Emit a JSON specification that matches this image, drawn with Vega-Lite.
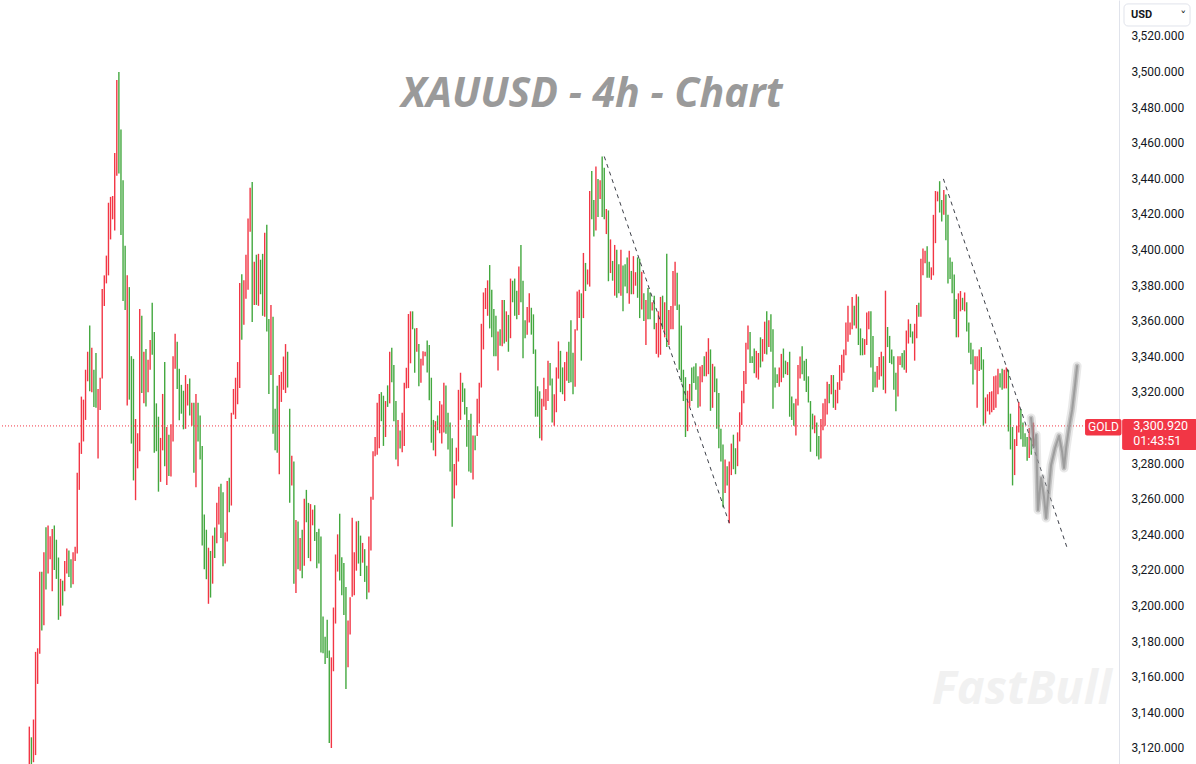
{
  "$schema": "https://vega.github.io/schema/vega-lite/v6.json",
  "width": 1119,
  "height": 764,
  "autosize": "none",
  "padding": {"left": 0, "top": 0, "right": 77, "bottom": 0},
  "background": "white",
  "config": {
    "view": {"stroke": null},
    "axisY": {"ticks": false, "grid": false, "domainColor": "#e0e3eb", "domainWidth": 1, "labelFont": "Roboto", "labelFontSize": 12, "labelColor": "#131722", "labelPadding": 12, "labelOverlap": false, "labelBound": false, "labelFlush": false, "title": null}
  },
  "datasets": {
    "bars": [
{"t":0,"h":3132,"l":3108,"c":"d"},{"t":1,"h":3126,"l":3108,"c":"u"},{"t":2,"h":3136,"l":3112,"c":"d"},{"t":3,"h":3174,"l":3116,"c":"d"},{"t":4,"h":3176,"l":3156,"c":"d"},{"t":5,"h":3219,"l":3173,"c":"d"},{"t":6,"h":3219,"l":3186,"c":"u"},{"t":7,"h":3230,"l":3189,"c":"d"},{"t":8,"h":3244,"l":3209,"c":"u"},{"t":9,"h":3245,"l":3218,"c":"d"},
{"t":10,"h":3239,"l":3226,"c":"d"},{"t":11,"h":3243,"l":3208,"c":"d"},{"t":12,"h":3245,"l":3220,"c":"u"},{"t":13,"h":3237,"l":3215,"c":"u"},{"t":14,"h":3227,"l":3192,"c":"u"},{"t":15,"h":3215,"l":3194,"c":"d"},{"t":16,"h":3214,"l":3200,"c":"u"},{"t":17,"h":3225,"l":3208,"c":"d"},{"t":18,"h":3232,"l":3218,"c":"d"},{"t":19,"h":3231,"l":3216,"c":"u"},
{"t":20,"h":3226,"l":3210,"c":"u"},{"t":21,"h":3230,"l":3212,"c":"d"},{"t":22,"h":3233,"l":3225,"c":"d"},{"t":23,"h":3274.6,"l":3229.2,"c":"d"},{"t":24,"h":3291.5,"l":3265.0,"c":"d"},{"t":25,"h":3317.4,"l":3285.2,"c":"d"},{"t":26,"h":3315.7,"l":3292.2,"c":"d"},{"t":27,"h":3332.5,"l":3304.3,"c":"d"},{"t":28,"h":3342.6,"l":3326.0,"c":"d"},{"t":29,"h":3357.3,"l":3320.4,"c":"u"},
{"t":30,"h":3344.9,"l":3319.9,"c":"d"},{"t":31,"h":3332.5,"l":3311.6,"c":"u"},{"t":32,"h":3341.9,"l":3311.1,"c":"u"},{"t":33,"h":3321.7,"l":3282.6,"c":"d"},{"t":34,"h":3328.0,"l":3309.9,"c":"d"},{"t":35,"h":3377.9,"l":3327.5,"c":"d"},{"t":36,"h":3385.5,"l":3368.3,"c":"d"},{"t":37,"h":3396.6,"l":3381.0,"c":"d"},{"t":38,"h":3426.3,"l":3385.5,"c":"d"},{"t":39,"h":3429.6,"l":3405.7,"c":"d"},
{"t":40,"h":3430.1,"l":3417.0,"c":"d"},{"t":41,"h":3454.3,"l":3410.7,"c":"d"},{"t":42,"h":3495.2,"l":3441.5,"c":"d"},{"t":43,"h":3499.7,"l":3442.7,"c":"u"},{"t":44,"h":3467.4,"l":3408.2,"c":"u"},{"t":45,"h":3438.9,"l":3371.1,"c":"u"},{"t":46,"h":3402.1,"l":3366.1,"c":"u"},{"t":47,"h":3385.5,"l":3312.4,"c":"d"},{"t":48,"h":3378.9,"l":3315.7,"c":"u"},{"t":49,"h":3340.1,"l":3291.0,"c":"u"},
{"t":50,"h":3338.6,"l":3270.3,"c":"u"},{"t":51,"h":3304.8,"l":3259.2,"c":"d"},{"t":52,"h":3296.8,"l":3277.1,"c":"d"},{"t":53,"h":3366.6,"l":3286.7,"c":"d"},{"t":54,"h":3362.8,"l":3319.4,"c":"u"},{"t":55,"h":3342.6,"l":3313.6,"c":"d"},{"t":56,"h":3344.1,"l":3311.9,"c":"u"},{"t":57,"h":3338.1,"l":3319.9,"c":"d"},{"t":58,"h":3349.2,"l":3332.5,"c":"d"},{"t":59,"h":3370.1,"l":3340.9,"c":"u"},
{"t":60,"h":3353.7,"l":3285.9,"c":"u"},{"t":61,"h":3313.6,"l":3286.7,"c":"u"},{"t":62,"h":3306.1,"l":3264.0,"c":"u"},{"t":63,"h":3294.2,"l":3269.5,"c":"d"},{"t":64,"h":3318.9,"l":3287.2,"c":"d"},{"t":65,"h":3336.8,"l":3278.3,"c":"u"},{"t":66,"h":3300.3,"l":3267.8,"c":"d"},{"t":67,"h":3296.0,"l":3272.8,"c":"u"},{"t":68,"h":3301.8,"l":3272.5,"c":"d"},{"t":69,"h":3340.1,"l":3292.2,"c":"d"},
{"t":70,"h":3352.7,"l":3333.1,"c":"d"},{"t":71,"h":3348.2,"l":3321.7,"c":"u"},{"t":72,"h":3333.1,"l":3304.1,"c":"u"},{"t":73,"h":3324.0,"l":3307.8,"c":"u"},{"t":74,"h":3320.7,"l":3299.0,"c":"u"},{"t":75,"h":3329.5,"l":3299.3,"c":"d"},{"t":76,"h":3324.5,"l":3312.4,"c":"d"},{"t":77,"h":3327.5,"l":3306.8,"c":"u"},{"t":78,"h":3313.9,"l":3301.0,"c":"d"},{"t":79,"h":3313.9,"l":3274.6,"c":"u"},
{"t":80,"h":3318.9,"l":3266.5,"c":"d"},{"t":81,"h":3313.9,"l":3292.2,"c":"u"},{"t":82,"h":3306.8,"l":3282.1,"c":"u"},{"t":83,"h":3289.7,"l":3233.7,"c":"u"},{"t":84,"h":3251.1,"l":3220.4,"c":"u"},{"t":85,"h":3242.6,"l":3214.8,"c":"u"},{"t":86,"h":3232.5,"l":3201.0,"c":"d"},{"t":87,"h":3230.7,"l":3204.5,"c":"u"},{"t":88,"h":3239.3,"l":3212.3,"c":"d"},{"t":89,"h":3243.8,"l":3226.7,"c":"u"},
{"t":90,"h":3257.7,"l":3235.0,"c":"d"},{"t":91,"h":3266.7,"l":3245.6,"c":"d"},{"t":92,"h":3268.5,"l":3238.0,"c":"u"},{"t":93,"h":3263.7,"l":3222.1,"c":"u"},{"t":94,"h":3241.0,"l":3223.6,"c":"d"},{"t":95,"h":3270.0,"l":3236.0,"c":"d"},{"t":96,"h":3271.8,"l":3252.4,"c":"u"},{"t":97,"h":3308.3,"l":3256.2,"c":"d"},{"t":98,"h":3321.7,"l":3307.3,"c":"d"},{"t":99,"h":3328.0,"l":3304.8,"c":"d"},
{"t":100,"h":3336.8,"l":3313.1,"c":"d"},{"t":101,"h":3381.2,"l":3322.2,"c":"d"},{"t":102,"h":3386.2,"l":3349.4,"c":"u"},{"t":103,"h":3382.7,"l":3357.8,"c":"d"},{"t":104,"h":3397.1,"l":3372.4,"c":"d"},{"t":105,"h":3417.5,"l":3377.4,"c":"d"},{"t":106,"h":3434.7,"l":3410.0,"c":"d"},{"t":107,"h":3437.9,"l":3359.3,"c":"u"},{"t":108,"h":3393.1,"l":3368.9,"c":"d"},{"t":109,"h":3397.1,"l":3368.9,"c":"u"},
{"t":110,"h":3397.6,"l":3368.4,"c":"d"},{"t":111,"h":3394.3,"l":3374.9,"c":"u"},{"t":112,"h":3397.6,"l":3362.8,"c":"u"},{"t":113,"h":3409.4,"l":3362.3,"c":"d"},{"t":114,"h":3414.0,"l":3354.0,"c":"u"},{"t":115,"h":3361.0,"l":3318.9,"c":"u"},{"t":116,"h":3368.9,"l":3329.5,"c":"d"},{"t":117,"h":3362.3,"l":3296.5,"c":"u"},{"t":118,"h":3310.6,"l":3287.2,"c":"u"},{"t":119,"h":3323.5,"l":3285.9,"c":"u"},
{"t":120,"h":3329.5,"l":3273.8,"c":"d"},{"t":121,"h":3331.3,"l":3314.4,"c":"d"},{"t":122,"h":3339.9,"l":3321.2,"c":"d"},{"t":123,"h":3346.9,"l":3319.4,"c":"d"},{"t":124,"h":3342.6,"l":3322.5,"c":"u"},{"t":125,"h":3310.6,"l":3257.7,"c":"u"},{"t":126,"h":3284.1,"l":3267.5,"c":"d"},{"t":127,"h":3280.9,"l":3212.3,"c":"u"},{"t":128,"h":3248.1,"l":3207.0,"c":"d"},{"t":129,"h":3247.3,"l":3220.4,"c":"u"},
{"t":130,"h":3238.0,"l":3219.6,"c":"d"},{"t":131,"h":3242.6,"l":3215.3,"c":"u"},{"t":132,"h":3260.0,"l":3222.4,"c":"d"},{"t":133,"h":3265.0,"l":3246.8,"c":"u"},{"t":134,"h":3257.7,"l":3226.7,"c":"u"},{"t":135,"h":3257.0,"l":3224.9,"c":"d"},{"t":136,"h":3253.9,"l":3245.1,"c":"d"},{"t":137,"h":3256.4,"l":3236.3,"c":"u"},{"t":138,"h":3241.3,"l":3220.9,"c":"u"},{"t":139,"h":3243.1,"l":3223.6,"c":"u"},
{"t":140,"h":3238.8,"l":3173.7,"c":"u"},{"t":141,"h":3193.9,"l":3173.2,"c":"u"},{"t":142,"h":3182.5,"l":3167.2,"c":"u"},{"t":143,"h":3192.1,"l":3170.5,"c":"u"},{"t":144,"h":3174.7,"l":3122.8,"c":"u"},{"t":145,"h":3170.9,"l":3120.0,"c":"d"},{"t":146,"h":3198.9,"l":3163.1,"c":"d"},{"t":147,"h":3228.7,"l":3189.9,"c":"d"},{"t":148,"h":3240.0,"l":3219.1,"c":"d"},{"t":149,"h":3251.6,"l":3214.1,"c":"u"},
{"t":150,"h":3227.2,"l":3205.8,"c":"u"},{"t":151,"h":3223.9,"l":3194.7,"c":"u"},{"t":152,"h":3210.5,"l":3153.1,"c":"u"},{"t":153,"h":3191.6,"l":3165.4,"c":"d"},{"t":154,"h":3204.7,"l":3183.8,"c":"d"},{"t":155,"h":3249.4,"l":3205.0,"c":"d"},{"t":156,"h":3229.9,"l":3205.8,"c":"d"},{"t":157,"h":3247.3,"l":3219.6,"c":"d"},{"t":158,"h":3247.6,"l":3223.6,"c":"u"},{"t":159,"h":3239.3,"l":3216.6,"c":"u"},
{"t":160,"h":3235.2,"l":3224.1,"c":"d"},{"t":161,"h":3231.7,"l":3213.3,"c":"u"},{"t":162,"h":3222.4,"l":3203.5,"c":"u"},{"t":163,"h":3238.8,"l":3207.3,"c":"d"},{"t":164,"h":3261.2,"l":3230.9,"c":"d"},{"t":165,"h":3286.7,"l":3259.4,"c":"d"},{"t":166,"h":3294.7,"l":3283.9,"c":"d"},{"t":167,"h":3313.9,"l":3284.7,"c":"d"},{"t":168,"h":3318.9,"l":3288.4,"c":"d"},{"t":169,"h":3319.9,"l":3303.6,"c":"u"},
{"t":170,"h":3317.9,"l":3289.7,"c":"u"},{"t":171,"h":3314.9,"l":3294.7,"c":"d"},{"t":172,"h":3323.7,"l":3311.6,"c":"u"},{"t":173,"h":3342.6,"l":3313.6,"c":"d"},{"t":174,"h":3344.9,"l":3325.5,"c":"u"},{"t":175,"h":3335.1,"l":3303.6,"c":"u"},{"t":176,"h":3314.9,"l":3282.1,"c":"u"},{"t":177,"h":3304.3,"l":3278.3,"c":"d"},{"t":178,"h":3298.3,"l":3288.2,"c":"u"},{"t":179,"h":3308.3,"l":3286.2,"c":"d"},
{"t":180,"h":3325.2,"l":3289.7,"c":"d"},{"t":181,"h":3333.6,"l":3322.0,"c":"d"},{"t":182,"h":3363.8,"l":3322.2,"c":"d"},{"t":183,"h":3365.3,"l":3336.1,"c":"d"},{"t":184,"h":3365.3,"l":3355.2,"c":"u"},{"t":185,"h":3355.7,"l":3330.8,"c":"u"},{"t":186,"h":3356.0,"l":3342.6,"c":"d"},{"t":187,"h":3346.9,"l":3323.2,"c":"u"},{"t":188,"h":3338.6,"l":3325.2,"c":"d"},{"t":189,"h":3342.9,"l":3334.8,"c":"d"},
{"t":190,"h":3342.6,"l":3340.1,"c":"d"},{"t":191,"h":3348.9,"l":3331.0,"c":"u"},{"t":192,"h":3346.4,"l":3315.4,"c":"u"},{"t":193,"h":3328.0,"l":3291.5,"c":"u"},{"t":194,"h":3304.3,"l":3287.2,"c":"u"},{"t":195,"h":3303.6,"l":3283.9,"c":"d"},{"t":196,"h":3306.8,"l":3298.5,"c":"u"},{"t":197,"h":3314.9,"l":3296.8,"c":"d"},{"t":198,"h":3312.9,"l":3291.0,"c":"d"},{"t":199,"h":3325.2,"l":3297.3,"c":"d"},
{"t":200,"h":3323.7,"l":3296.5,"c":"u"},{"t":201,"h":3308.3,"l":3287.7,"c":"u"},{"t":202,"h":3302.8,"l":3275.3,"c":"u"},{"t":203,"h":3294.0,"l":3244.3,"c":"u"},{"t":204,"h":3279.6,"l":3260.2,"c":"d"},{"t":205,"h":3288.7,"l":3267.5,"c":"d"},{"t":206,"h":3321.2,"l":3280.9,"c":"d"},{"t":207,"h":3330.8,"l":3304.3,"c":"d"},{"t":208,"h":3325.2,"l":3314.4,"c":"u"},{"t":209,"h":3322.0,"l":3307.3,"c":"u"},
{"t":210,"h":3311.6,"l":3289.2,"c":"u"},{"t":211,"h":3304.3,"l":3275.3,"c":"u"},{"t":212,"h":3307.8,"l":3274.6,"c":"u"},{"t":213,"h":3295.5,"l":3270.8,"c":"d"},{"t":214,"h":3295.5,"l":3287.2,"c":"u"},{"t":215,"h":3316.2,"l":3295.2,"c":"d"},{"t":216,"h":3325.2,"l":3302.3,"c":"d"},{"t":217,"h":3358.3,"l":3322.5,"c":"d"},{"t":218,"h":3375.9,"l":3343.9,"c":"d"},{"t":219,"h":3378.4,"l":3366.6,"c":"d"},
{"t":220,"h":3382.7,"l":3362.8,"c":"d"},{"t":221,"h":3391.3,"l":3355.7,"c":"u"},{"t":222,"h":3377.4,"l":3350.7,"c":"u"},{"t":223,"h":3366.6,"l":3340.1,"c":"u"},{"t":224,"h":3362.8,"l":3340.1,"c":"u"},{"t":225,"h":3354.0,"l":3332.0,"c":"d"},{"t":226,"h":3355.2,"l":3345.9,"c":"u"},{"t":227,"h":3371.6,"l":3345.7,"c":"d"},{"t":228,"h":3371.6,"l":3347.2,"c":"u"},{"t":229,"h":3365.3,"l":3348.2,"c":"d"},
{"t":230,"h":3363.3,"l":3342.6,"c":"u"},{"t":231,"h":3383.7,"l":3350.2,"c":"d"},{"t":232,"h":3382.5,"l":3370.4,"c":"u"},{"t":233,"h":3383.7,"l":3362.8,"c":"u"},{"t":234,"h":3376.9,"l":3360.8,"c":"u"},{"t":235,"h":3390.5,"l":3363.3,"c":"d"},{"t":236,"h":3402.6,"l":3370.4,"c":"u"},{"t":237,"h":3382.5,"l":3338.9,"c":"u"},{"t":238,"h":3360.3,"l":3350.2,"c":"u"},{"t":239,"h":3367.8,"l":3352.2,"c":"d"},
{"t":240,"h":3375.4,"l":3359.0,"c":"d"},{"t":241,"h":3367.3,"l":3352.2,"c":"u"},{"t":242,"h":3363.6,"l":3341.4,"c":"u"},{"t":243,"h":3343.9,"l":3306.1,"c":"u"},{"t":244,"h":3323.2,"l":3306.1,"c":"u"},{"t":245,"h":3320.4,"l":3294.0,"c":"u"},{"t":246,"h":3316.2,"l":3292.7,"c":"d"},{"t":247,"h":3328.0,"l":3311.9,"c":"d"},{"t":248,"h":3321.7,"l":3309.9,"c":"d"},{"t":249,"h":3337.6,"l":3314.9,"c":"d"},
{"t":250,"h":3336.3,"l":3323.7,"c":"u"},{"t":251,"h":3327.5,"l":3302.8,"c":"u"},{"t":252,"h":3318.7,"l":3301.0,"c":"d"},{"t":253,"h":3333.8,"l":3308.6,"c":"d"},{"t":254,"h":3348.4,"l":3327.5,"c":"d"},{"t":255,"h":3343.1,"l":3319.9,"c":"u"},{"t":256,"h":3333.8,"l":3318.7,"c":"u"},{"t":257,"h":3336.8,"l":3314.9,"c":"d"},{"t":258,"h":3342.6,"l":3326.3,"c":"d"},{"t":259,"h":3348.2,"l":3325.0,"c":"u"},
{"t":260,"h":3360.3,"l":3325.5,"c":"u"},{"t":261,"h":3342.1,"l":3318.7,"c":"u"},{"t":262,"h":3355.2,"l":3323.0,"c":"d"},{"t":263,"h":3376.4,"l":3354.5,"c":"d"},{"t":264,"h":3377.4,"l":3361.5,"c":"d"},{"t":265,"h":3375.4,"l":3337.6,"c":"u"},{"t":266,"h":3398.1,"l":3361.5,"c":"d"},{"t":267,"h":3392.5,"l":3376.7,"c":"u"},{"t":268,"h":3388.8,"l":3380.4,"c":"d"},{"t":269,"h":3432.9,"l":3379.2,"c":"d"},
{"t":270,"h":3444.2,"l":3417.0,"c":"u"},{"t":271,"h":3427.8,"l":3407.4,"c":"u"},{"t":272,"h":3446.7,"l":3410.7,"c":"d"},{"t":273,"h":3439.7,"l":3418.3,"c":"u"},{"t":274,"h":3438.9,"l":3428.4,"c":"d"},{"t":275,"h":3452.3,"l":3418.3,"c":"u"},{"t":276,"h":3446.0,"l":3417.0,"c":"u"},{"t":277,"h":3422.8,"l":3408.7,"c":"d"},{"t":278,"h":3422.0,"l":3382.2,"c":"u"},{"t":279,"h":3405.7,"l":3386.8,"c":"d"},
{"t":280,"h":3393.6,"l":3382.5,"c":"u"},{"t":281,"h":3402.6,"l":3374.1,"c":"d"},{"t":282,"h":3399.9,"l":3372.9,"c":"u"},{"t":283,"h":3391.8,"l":3375.4,"c":"u"},{"t":284,"h":3399.9,"l":3374.1,"c":"d"},{"t":285,"h":3391.0,"l":3365.3,"c":"u"},{"t":286,"h":3391.8,"l":3379.2,"c":"u"},{"t":287,"h":3395.6,"l":3375.4,"c":"u"},{"t":288,"h":3399.4,"l":3369.6,"c":"d"},{"t":289,"h":3388.0,"l":3374.9,"c":"u"},
{"t":290,"h":3396.3,"l":3374.9,"c":"d"},{"t":291,"h":3387.3,"l":3379.7,"c":"d"},{"t":292,"h":3395.6,"l":3372.9,"c":"u"},{"t":293,"h":3394.8,"l":3361.5,"c":"u"},{"t":294,"h":3387.5,"l":3366.3,"c":"d"},{"t":295,"h":3375.4,"l":3359.8,"c":"u"},{"t":296,"h":3371.6,"l":3346.4,"c":"d"},{"t":297,"h":3378.4,"l":3360.8,"c":"u"},{"t":298,"h":3375.9,"l":3360.8,"c":"u"},{"t":299,"h":3370.4,"l":3365.8,"c":"d"},
{"t":300,"h":3374.1,"l":3355.2,"c":"u"},{"t":301,"h":3358.8,"l":3341.4,"c":"d"},{"t":302,"h":3365.3,"l":3339.4,"c":"d"},{"t":303,"h":3373.4,"l":3340.9,"c":"d"},{"t":304,"h":3374.1,"l":3355.2,"c":"u"},{"t":305,"h":3370.4,"l":3350.7,"c":"d"},{"t":306,"h":3397.6,"l":3345.2,"c":"u"},{"t":307,"h":3366.1,"l":3346.4,"c":"d"},{"t":308,"h":3368.3,"l":3355.2,"c":"d"},{"t":309,"h":3388.0,"l":3355.2,"c":"d"},
{"t":310,"h":3393.1,"l":3368.4,"c":"d"},{"t":311,"h":3387.0,"l":3366.1,"c":"u"},{"t":312,"h":3369.1,"l":3332.5,"c":"u"},{"t":313,"h":3357.3,"l":3325.5,"c":"u"},{"t":314,"h":3332.5,"l":3314.9,"c":"u"},{"t":315,"h":3328.3,"l":3294.7,"c":"u"},{"t":316,"h":3320.7,"l":3298.0,"c":"d"},{"t":317,"h":3324.5,"l":3311.9,"c":"d"},{"t":318,"h":3333.8,"l":3314.9,"c":"u"},{"t":319,"h":3334.3,"l":3325.0,"c":"u"},
{"t":320,"h":3336.1,"l":3321.2,"c":"u"},{"t":321,"h":3328.8,"l":3311.1,"c":"u"},{"t":322,"h":3334.3,"l":3311.9,"c":"d"},{"t":323,"h":3335.1,"l":3325.5,"c":"d"},{"t":324,"h":3340.1,"l":3328.8,"c":"u"},{"t":325,"h":3342.6,"l":3328.8,"c":"d"},{"t":326,"h":3350.2,"l":3330.0,"c":"d"},{"t":327,"h":3343.9,"l":3309.4,"c":"u"},{"t":328,"h":3335.8,"l":3311.1,"c":"d"},{"t":329,"h":3334.3,"l":3319.9,"c":"u"},
{"t":330,"h":3327.5,"l":3299.3,"c":"u"},{"t":331,"h":3319.4,"l":3288.4,"c":"u"},{"t":332,"h":3299.3,"l":3280.9,"c":"u"},{"t":333,"h":3290.5,"l":3255.2,"c":"u"},{"t":334,"h":3282.1,"l":3263.2,"c":"d"},{"t":335,"h":3278.3,"l":3267.5,"c":"u"},{"t":336,"h":3280.9,"l":3246.3,"c":"d"},{"t":337,"h":3291.0,"l":3273.3,"c":"d"},{"t":338,"h":3296.0,"l":3276.6,"c":"u"},{"t":339,"h":3288.4,"l":3273.8,"c":"u"},
{"t":340,"h":3297.3,"l":3278.3,"c":"d"},{"t":341,"h":3308.6,"l":3292.2,"c":"d"},{"t":342,"h":3320.7,"l":3301.5,"c":"d"},{"t":343,"h":3331.8,"l":3313.6,"c":"d"},{"t":344,"h":3347.7,"l":3324.5,"c":"d"},{"t":345,"h":3357.3,"l":3343.9,"c":"d"},{"t":346,"h":3353.7,"l":3336.3,"c":"u"},{"t":347,"h":3340.1,"l":3336.3,"c":"u"},{"t":348,"h":3344.4,"l":3330.5,"c":"u"},{"t":349,"h":3343.1,"l":3328.0,"c":"d"},
{"t":350,"h":3341.9,"l":3327.0,"c":"d"},{"t":351,"h":3350.7,"l":3333.8,"c":"u"},{"t":352,"h":3349.7,"l":3337.1,"c":"d"},{"t":353,"h":3359.5,"l":3341.4,"c":"d"},{"t":354,"h":3365.3,"l":3341.1,"c":"u"},{"t":355,"h":3360.3,"l":3345.2,"c":"d"},{"t":356,"h":3363.6,"l":3342.6,"c":"u"},{"t":357,"h":3355.2,"l":3310.6,"c":"u"},{"t":358,"h":3333.8,"l":3322.5,"c":"u"},{"t":359,"h":3330.0,"l":3325.0,"c":"u"},
{"t":360,"h":3333.8,"l":3323.0,"c":"d"},{"t":361,"h":3341.4,"l":3325.5,"c":"d"},{"t":362,"h":3344.4,"l":3328.0,"c":"u"},{"t":363,"h":3337.6,"l":3330.0,"c":"u"},{"t":364,"h":3336.8,"l":3329.5,"c":"d"},{"t":365,"h":3342.6,"l":3306.1,"c":"u"},{"t":366,"h":3317.4,"l":3304.3,"c":"u"},{"t":367,"h":3313.6,"l":3301.0,"c":"u"},{"t":368,"h":3316.2,"l":3295.5,"c":"d"},{"t":369,"h":3335.1,"l":3312.4,"c":"d"},
{"t":370,"h":3339.9,"l":3327.5,"c":"d"},{"t":371,"h":3345.7,"l":3330.0,"c":"u"},{"t":372,"h":3337.6,"l":3326.3,"c":"u"},{"t":373,"h":3338.6,"l":3320.0,"c":"u"},{"t":374,"h":3328.8,"l":3314.1,"c":"u"},{"t":375,"h":3314.9,"l":3286.4,"c":"u"},{"t":376,"h":3307.8,"l":3299.0,"c":"u"},{"t":377,"h":3306.8,"l":3296.8,"c":"d"},{"t":378,"h":3302.8,"l":3283.9,"c":"u"},{"t":379,"h":3295.2,"l":3282.1,"c":"u"},
{"t":380,"h":3304.8,"l":3282.6,"c":"d"},{"t":381,"h":3313.6,"l":3298.5,"c":"d"},{"t":382,"h":3316.2,"l":3301.0,"c":"d"},{"t":383,"h":3325.7,"l":3307.3,"c":"d"},{"t":384,"h":3324.5,"l":3313.6,"c":"u"},{"t":385,"h":3329.5,"l":3318.7,"c":"d"},{"t":386,"h":3329.5,"l":3311.1,"c":"u"},{"t":387,"h":3321.2,"l":3309.9,"c":"d"},{"t":388,"h":3325.5,"l":3313.6,"c":"d"},{"t":389,"h":3335.1,"l":3321.2,"c":"d"},
{"t":390,"h":3340.9,"l":3326.3,"c":"d"},{"t":391,"h":3343.9,"l":3330.8,"c":"d"},{"t":392,"h":3359.0,"l":3340.6,"c":"d"},{"t":393,"h":3368.4,"l":3348.2,"c":"d"},{"t":394,"h":3359.0,"l":3352.2,"c":"d"},{"t":395,"h":3373.4,"l":3355.2,"c":"d"},{"t":396,"h":3368.4,"l":3357.3,"c":"u"},{"t":397,"h":3374.9,"l":3355.7,"c":"d"},{"t":398,"h":3373.6,"l":3346.4,"c":"u"},{"t":399,"h":3355.7,"l":3340.6,"c":"u"},
{"t":400,"h":3350.2,"l":3340.6,"c":"u"},{"t":401,"h":3349.7,"l":3340.9,"c":"d"},{"t":402,"h":3364.6,"l":3346.4,"c":"d"},{"t":403,"h":3365.3,"l":3355.2,"c":"d"},{"t":404,"h":3365.3,"l":3333.8,"c":"u"},{"t":405,"h":3351.5,"l":3320.0,"c":"u"},{"t":406,"h":3331.3,"l":3322.5,"c":"u"},{"t":407,"h":3334.6,"l":3322.5,"c":"d"},{"t":408,"h":3339.6,"l":3326.8,"c":"d"},{"t":409,"h":3342.6,"l":3328.8,"c":"d"},
{"t":410,"h":3340.1,"l":3321.2,"c":"u"},{"t":411,"h":3376.9,"l":3319.2,"c":"d"},{"t":412,"h":3356.5,"l":3345.2,"c":"u"},{"t":413,"h":3351.5,"l":3336.3,"c":"u"},{"t":414,"h":3343.9,"l":3335.6,"c":"u"},{"t":415,"h":3340.1,"l":3321.2,"c":"u"},{"t":416,"h":3330.8,"l":3309.1,"c":"u"},{"t":417,"h":3340.1,"l":3317.4,"c":"d"},{"t":418,"h":3340.1,"l":3335.1,"c":"d"},{"t":419,"h":3341.9,"l":3333.8,"c":"u"},
{"t":420,"h":3343.4,"l":3332.5,"c":"u"},{"t":421,"h":3354.5,"l":3330.8,"c":"d"},{"t":422,"h":3360.8,"l":3347.2,"c":"d"},{"t":423,"h":3358.3,"l":3350.7,"c":"u"},{"t":424,"h":3354.0,"l":3347.2,"c":"u"},{"t":425,"h":3358.3,"l":3337.6,"c":"d"},{"t":426,"h":3368.9,"l":3350.2,"c":"d"},{"t":427,"h":3370.1,"l":3362.3,"c":"u"},{"t":428,"h":3394.8,"l":3362.3,"c":"d"},{"t":429,"h":3400.6,"l":3385.5,"c":"d"},
{"t":430,"h":3399.4,"l":3392.3,"c":"d"},{"t":431,"h":3401.9,"l":3384.2,"c":"u"},{"t":432,"h":3393.1,"l":3384.2,"c":"u"},{"t":433,"h":3390.0,"l":3383.0,"c":"d"},{"t":434,"h":3419.5,"l":3385.5,"c":"d"},{"t":435,"h":3432.9,"l":3403.6,"c":"d"},{"t":436,"h":3432.6,"l":3427.1,"c":"d"},{"t":437,"h":3438.4,"l":3420.8,"c":"u"},{"t":438,"h":3427.8,"l":3415.7,"c":"u"},{"t":439,"h":3433.4,"l":3419.5,"c":"d"},
{"t":440,"h":3430.9,"l":3405.2,"c":"u"},{"t":441,"h":3419.5,"l":3380.9,"c":"u"},{"t":442,"h":3395.6,"l":3383.5,"c":"u"},{"t":443,"h":3393.1,"l":3375.4,"c":"u"},{"t":444,"h":3386.0,"l":3361.0,"c":"u"},{"t":445,"h":3372.1,"l":3350.7,"c":"u"},{"t":446,"h":3375.4,"l":3350.7,"c":"d"},{"t":447,"h":3376.7,"l":3365.3,"c":"d"},{"t":448,"h":3372.9,"l":3366.1,"c":"u"},{"t":449,"h":3375.9,"l":3365.3,"c":"d"},
{"t":450,"h":3370.4,"l":3354.0,"c":"u"},{"t":451,"h":3359.0,"l":3342.1,"c":"u"},{"t":452,"h":3347.7,"l":3335.6,"c":"u"},{"t":453,"h":3343.9,"l":3324.2,"c":"u"},{"t":454,"h":3340.1,"l":3332.5,"c":"d"},{"t":455,"h":3340.1,"l":3311.1,"c":"d"},{"t":456,"h":3343.9,"l":3331.8,"c":"d"},{"t":457,"h":3345.2,"l":3332.5,"c":"u"},{"t":458,"h":3338.3,"l":3301.0,"c":"u"},{"t":459,"h":3316.9,"l":3302.3,"c":"d"},
{"t":460,"h":3318.7,"l":3309.1,"c":"d"},{"t":461,"h":3320.0,"l":3307.3,"c":"d"},{"t":462,"h":3320.4,"l":3308.6,"c":"d"},{"t":463,"h":3328.8,"l":3309.9,"c":"d"},{"t":464,"h":3329.3,"l":3311.1,"c":"d"},{"t":465,"h":3333.1,"l":3318.7,"c":"d"},{"t":466,"h":3330.5,"l":3322.5,"c":"u"},{"t":467,"h":3333.1,"l":3321.2,"c":"u"},{"t":468,"h":3332.5,"l":3322.0,"c":"d"},{"t":469,"h":3333.8,"l":3322.0,"c":"d"},
{"t":470,"h":3332.5,"l":3297.8,"c":"u"},{"t":471,"h":3307.8,"l":3287.7,"c":"u"},{"t":472,"h":3300.3,"l":3267.5,"c":"u"},{"t":473,"h":3293.5,"l":3273.3,"c":"d"},{"t":474,"h":3301.0,"l":3289.7,"c":"d"},{"t":475,"h":3314.4,"l":3297.3,"c":"d"},{"t":476,"h":3310.4,"l":3293.5,"c":"u"},{"t":477,"h":3302.8,"l":3289.2,"c":"u"},{"t":478,"h":3296.8,"l":3289.2,"c":"u"},{"t":479,"h":3294.7,"l":3281.4,"c":"u"},
{"t":480,"h":3299.8,"l":3282.9,"c":"d"},{"t":481,"h":3294.0,"l":3284.7,"c":"u"},{"t":482,"h":3302.8,"l":3289.7,"c":"d"}
    ],
    "trend": [
      {"g": 1, "t": 276.0, "p": 3452.3}, {"g": 1, "t": 336.0, "p": 3246.3},
      {"g": 2, "t": 438.8, "p": 3439.7}, {"g": 2, "t": 498.2, "p": 3232.4}
    ],
    "path": [
      {"t": 480.9, "p": 3305.4}, {"t": 482.3, "p": 3289.1}, {"t": 483.3, "p": 3295.8}, {"t": 484.2, "p": 3253.7},
      {"t": 485.7, "p": 3271.7}, {"t": 487.1, "p": 3261.0}, {"t": 488.1, "p": 3249.2}, {"t": 489.1, "p": 3262.1},
      {"t": 490.5, "p": 3279.0}, {"t": 492.4, "p": 3288.5}, {"t": 494.3, "p": 3295.3}, {"t": 495.8, "p": 3286.3},
      {"t": 496.7, "p": 3277.3}, {"t": 497.7, "p": 3288.5}, {"t": 499.1, "p": 3299.8}, {"t": 500.6, "p": 3309.9},
      {"t": 502.0, "p": 3323.9}, {"t": 503.0, "p": 3334.6}
    ]
  },
  "layer": [
    {
      "data": {"name": "bars"},
      "mark": {"type": "rule", "strokeWidth": 1.4},
      "encoding": {
        "x": {"field": "t", "type": "quantitative", "scale": {"domain": [-14.07, 523.1], "nice": false, "zero": false}, "axis": null},
        "y": {"field": "h", "type": "quantitative", "scale": {"domain": [3111.0, 3540.2], "nice": false, "zero": false},
              "axis": {"orient": "right", "values": [3120,3140,3160,3180,3200,3220,3240,3260,3280,3320,3340,3360,3380,3400,3420,3440,3460,3480,3500,3520], "format": ",.3f", "title": null, "labelOverlap": false}},
        "y2": {"field": "l"},
        "color": {"field": "c", "type": "nominal", "scale": {"domain": ["u", "d"], "range": ["#43a83f", "#f23645"]}, "legend": null}
      }
    },
    {
      "data": {"values": [{"p": 3300.92}]},
      "mark": {"type": "rule", "color": "#f23645", "strokeDash": [1, 2], "strokeWidth": 1},
      "encoding": {
        "y": {"field": "p", "type": "quantitative", "scale": {"domain": [3111.0, 3540.2], "nice": false, "zero": false},
              "axis": {"orient": "right", "values": [3120,3140,3160,3180,3200,3220,3240,3260,3280,3320,3340,3360,3380,3400,3420,3440,3460,3480,3500,3520], "format": ",.3f", "title": null, "labelOverlap": false}}
      }
    },
    {
      "data": {"name": "trend"},
      "mark": {"type": "line", "color": "#3c3f48", "strokeDash": [4, 4], "strokeWidth": 1},
      "encoding": {
        "x": {"field": "t", "type": "quantitative", "scale": {"domain": [-14.07, 523.1], "nice": false, "zero": false}, "axis": null},
        "y": {"field": "p", "type": "quantitative", "scale": {"domain": [3111.0, 3540.2], "nice": false, "zero": false},
              "axis": {"orient": "right", "values": [3120,3140,3160,3180,3200,3220,3240,3260,3280,3320,3340,3360,3380,3400,3420,3440,3460,3480,3500,3520], "format": ",.3f", "title": null, "labelOverlap": false}},
        "detail": {"field": "g", "type": "nominal"}
      }
    },
    {
      "data": {"name": "path"},
      "mark": {"type": "line", "color": "#b5b5b5", "strokeWidth": 9, "opacity": 0.3, "strokeCap": "round", "strokeJoin": "round"},
      "encoding": {
        "x": {"field": "t", "type": "quantitative", "scale": {"domain": [-14.07, 523.1], "nice": false, "zero": false}, "axis": null},
        "y": {"field": "p", "type": "quantitative", "scale": {"domain": [3111.0, 3540.2], "nice": false, "zero": false},
              "axis": {"orient": "right", "values": [3120,3140,3160,3180,3200,3220,3240,3260,3280,3320,3340,3360,3380,3400,3420,3440,3460,3480,3500,3520], "format": ",.3f", "title": null, "labelOverlap": false}}
      }
    },
    {
      "data": {"name": "path"},
      "mark": {"type": "line", "color": "#999999", "strokeWidth": 5, "opacity": 0.5, "strokeCap": "round", "strokeJoin": "round"},
      "encoding": {
        "x": {"field": "t", "type": "quantitative", "scale": {"domain": [-14.07, 523.1], "nice": false, "zero": false}, "axis": null},
        "y": {"field": "p", "type": "quantitative", "scale": {"domain": [3111.0, 3540.2], "nice": false, "zero": false},
              "axis": {"orient": "right", "values": [3120,3140,3160,3180,3200,3220,3240,3260,3280,3320,3340,3360,3380,3400,3420,3440,3460,3480,3500,3520], "format": ",.3f", "title": null, "labelOverlap": false}}
      }
    },
    {
      "data": {"name": "path"},
      "mark": {"type": "line", "color": "#7a7a7a", "strokeWidth": 2, "opacity": 0.5, "strokeCap": "round", "strokeJoin": "round"},
      "encoding": {
        "x": {"field": "t", "type": "quantitative", "scale": {"domain": [-14.07, 523.1], "nice": false, "zero": false}, "axis": null},
        "y": {"field": "p", "type": "quantitative", "scale": {"domain": [3111.0, 3540.2], "nice": false, "zero": false},
              "axis": {"orient": "right", "values": [3120,3140,3160,3180,3200,3220,3240,3260,3280,3320,3340,3360,3380,3400,3420,3440,3460,3480,3500,3520], "format": ",.3f", "title": null, "labelOverlap": false}}
      }
    },
    {
      "data": {"values": [{"t": 476.4, "p": 3152.6, "s": "FastBull"}]},
      "mark": {"type": "text", "font": "Open Sans", "fontSize": 47, "fontWeight": "bold", "fontStyle": "italic", "color": "#f1f1f1", "align": "center", "baseline": "middle"},
      "encoding": {
        "x": {"field": "t", "type": "quantitative", "scale": {"domain": [-14.07, 523.1], "nice": false, "zero": false}, "axis": null},
        "y": {"field": "p", "type": "quantitative", "scale": {"domain": [3111.0, 3540.2], "nice": false, "zero": false},
              "axis": {"orient": "right", "values": [3120,3140,3160,3180,3200,3220,3240,3260,3280,3320,3340,3360,3380,3400,3420,3440,3460,3480,3500,3520], "format": ",.3f", "title": null, "labelOverlap": false}},
        "text": {"field": "s"}
      }
    },
    {
      "data": {"values": [{"t": 270.1, "p": 3486.9, "s": "XAUUSD - 4h - Chart"}]},
      "mark": {"type": "text", "font": "Open Sans", "fontSize": 41, "fontWeight": "bold", "fontStyle": "italic", "color": "#9a9a9a", "align": "center", "baseline": "middle"},
      "encoding": {
        "x": {"field": "t", "type": "quantitative", "scale": {"domain": [-14.07, 523.1], "nice": false, "zero": false}, "axis": null},
        "y": {"field": "p", "type": "quantitative", "scale": {"domain": [3111.0, 3540.2], "nice": false, "zero": false},
              "axis": {"orient": "right", "values": [3120,3140,3160,3180,3200,3220,3240,3260,3280,3320,3340,3360,3380,3400,3420,3440,3460,3480,3500,3520], "format": ",.3f", "title": null, "labelOverlap": false}},
        "text": {"field": "s"}
      }
    },
    {
      "data": {"values": [{"t": 506.8, "t2": 524.3, "p": 3304.8, "p2": 3295.5}, {"t": 524.6, "t2": 560.5, "p": 3304.8, "p2": 3287.4}]},
      "mark": {"type": "rect", "color": "#f23645", "cornerRadius": 2},
      "encoding": {
        "x": {"field": "t", "type": "quantitative", "scale": {"domain": [-14.07, 523.1], "nice": false, "zero": false}, "axis": null},
        "x2": {"field": "t2"},
        "y": {"field": "p", "type": "quantitative", "scale": {"domain": [3111.0, 3540.2], "nice": false, "zero": false},
              "axis": {"orient": "right", "values": [3120,3140,3160,3180,3200,3220,3240,3260,3280,3320,3340,3360,3380,3400,3420,3440,3460,3480,3500,3520], "format": ",.3f", "title": null, "labelOverlap": false}},
        "y2": {"field": "p2"}
      }
    },
    {
      "data": {"values": [{"t": 525.5, "t2": 557.2, "p": 3538.0, "p2": 3525.6}]},
      "mark": {"type": "rect", "fill": "#ffffff", "stroke": "#e0e3eb", "strokeWidth": 1, "cornerRadius": 4},
      "encoding": {
        "x": {"field": "t", "type": "quantitative", "scale": {"domain": [-14.07, 523.1], "nice": false, "zero": false}, "axis": null},
        "x2": {"field": "t2"},
        "y": {"field": "p", "type": "quantitative", "scale": {"domain": [3111.0, 3540.2], "nice": false, "zero": false},
              "axis": {"orient": "right", "values": [3120,3140,3160,3180,3200,3220,3240,3260,3280,3320,3340,3360,3380,3400,3420,3440,3460,3480,3500,3520], "format": ",.3f", "title": null, "labelOverlap": false}},
        "y2": {"field": "p2"}
      }
    },
    {
      "data": {"values": [{"t": 515.6, "p": 3300.4, "s": "GOLD"}]},
      "mark": {"type": "text", "font": "Roboto", "fontSize": 12, "color": "#ffffff", "align": "center", "baseline": "middle"},
      "encoding": {
        "x": {"field": "t", "type": "quantitative", "scale": {"domain": [-14.07, 523.1], "nice": false, "zero": false}, "axis": null},
        "y": {"field": "p", "type": "quantitative", "scale": {"domain": [3111.0, 3540.2], "nice": false, "zero": false},
              "axis": {"orient": "right", "values": [3120,3140,3160,3180,3200,3220,3240,3260,3280,3320,3340,3360,3380,3400,3420,3440,3460,3480,3500,3520], "format": ",.3f", "title": null, "labelOverlap": false}},
        "text": {"field": "s"}
      }
    },
    {
      "data": {"values": [{"t": 529.9, "p": 3300.7, "s": "3,300.920"}, {"t": 529.9, "p": 3292.3, "s": "01:43:51"}]},
      "mark": {"type": "text", "font": "Roboto", "fontSize": 12.5, "color": "#ffffff", "align": "left", "baseline": "middle"},
      "encoding": {
        "x": {"field": "t", "type": "quantitative", "scale": {"domain": [-14.07, 523.1], "nice": false, "zero": false}, "axis": null},
        "y": {"field": "p", "type": "quantitative", "scale": {"domain": [3111.0, 3540.2], "nice": false, "zero": false},
              "axis": {"orient": "right", "values": [3120,3140,3160,3180,3200,3220,3240,3260,3280,3320,3340,3360,3380,3400,3420,3440,3460,3480,3500,3520], "format": ",.3f", "title": null, "labelOverlap": false}},
        "text": {"field": "s"}
      }
    },
    {
      "data": {"values": [{"t": 528.9, "p": 3531.8, "s": "USD"}]},
      "mark": {"type": "text", "font": "Roboto", "fontSize": 11, "fontWeight": "bold", "color": "#131722", "align": "left", "baseline": "middle"},
      "encoding": {
        "x": {"field": "t", "type": "quantitative", "scale": {"domain": [-14.07, 523.1], "nice": false, "zero": false}, "axis": null},
        "y": {"field": "p", "type": "quantitative", "scale": {"domain": [3111.0, 3540.2], "nice": false, "zero": false},
              "axis": {"orient": "right", "values": [3120,3140,3160,3180,3200,3220,3240,3260,3280,3320,3340,3360,3380,3400,3420,3440,3460,3480,3500,3520], "format": ",.3f", "title": null, "labelOverlap": false}},
        "text": {"field": "s"}
      }
    },
    {
      "data": {"values": [{"t": 553.9, "p": 3530.5, "s": "ˇ"}]},
      "mark": {"type": "text", "font": "DejaVu Sans", "fontSize": 12, "color": "#131722", "align": "center", "baseline": "middle"},
      "encoding": {
        "x": {"field": "t", "type": "quantitative", "scale": {"domain": [-14.07, 523.1], "nice": false, "zero": false}, "axis": null},
        "y": {"field": "p", "type": "quantitative", "scale": {"domain": [3111.0, 3540.2], "nice": false, "zero": false},
              "axis": {"orient": "right", "values": [3120,3140,3160,3180,3200,3220,3240,3260,3280,3320,3340,3360,3380,3400,3420,3440,3460,3480,3500,3520], "format": ",.3f", "title": null, "labelOverlap": false}},
        "text": {"field": "s"}
      }
    }
  ]
}
